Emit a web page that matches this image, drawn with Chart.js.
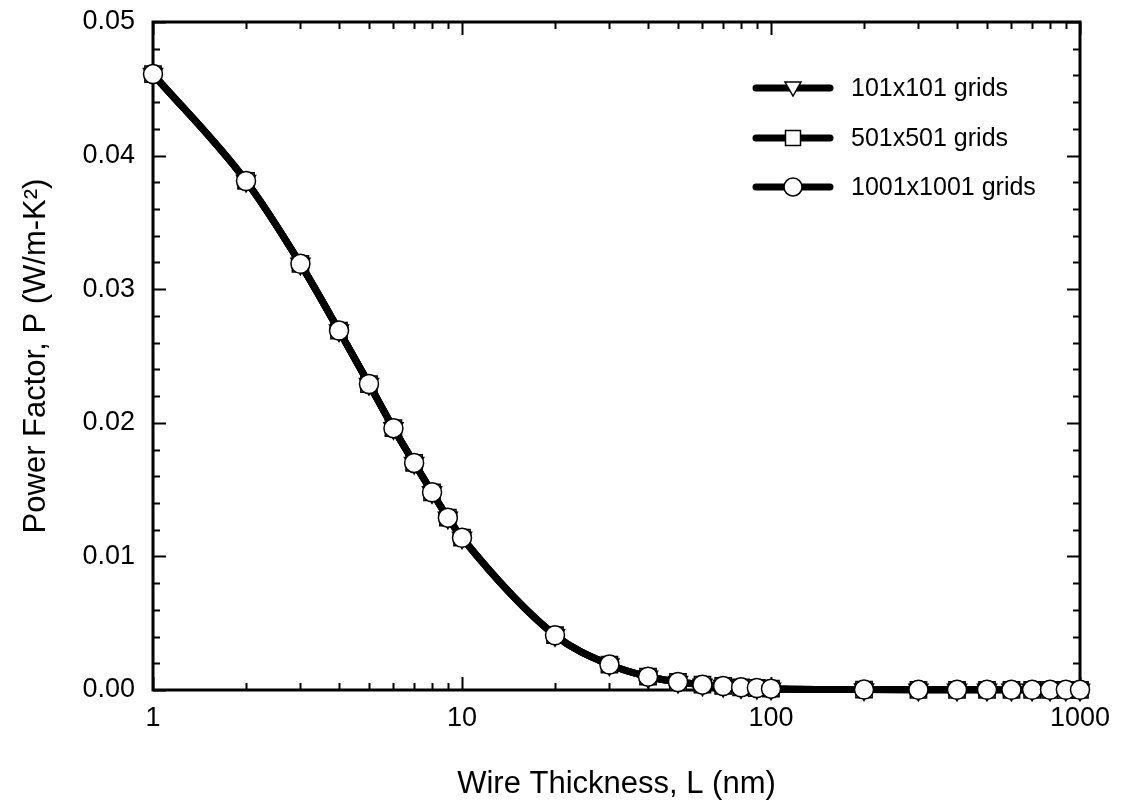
<!DOCTYPE html>
<html lang="en">
<head>
  <meta charset="UTF-8" />
  <title>Power Factor vs Wire Thickness</title>
  <script src="https://cdn.jsdelivr.net/npm/chart.js"></script>
  <style>
    html, body { margin: 0; padding: 0; background: #fff; }
    #wrap { width: 1129px; height: 809px; }
  </style>
</head>
<body>
  <div id="wrap"><canvas id="grafico"></canvas></div>

  <script>
    // --- data ---
    const thickness = [1, 2, 3, 4, 5, 6, 7, 8, 9, 10, 20, 30, 40, 50, 60, 70, 80, 90, 100,
                       200, 300, 400, 500, 600, 700, 800, 900, 1000];
    const grid101  = [0.0461, 0.0381, 0.0319, 0.0269, 0.0229, 0.0196, 0.0170, 0.0148, 0.0129, 0.0114,
                      0.0041, 0.0019, 0.0010, 0.0006, 0.0004, 0.0003, 0.0002, 0.00015, 0.0001,
                      0.00003, 0.00001, 0.00001, 0.00001, 0.00001, 0.00001, 0.00001, 0.00001, 0.00001];
    const grid501  = [0.0461, 0.0381, 0.0319, 0.0269, 0.0229, 0.0196, 0.0170, 0.0148, 0.0129, 0.0114,
                      0.0041, 0.0019, 0.0010, 0.0006, 0.0004, 0.0003, 0.0002, 0.00015, 0.0001,
                      0.00003, 0.00001, 0.00001, 0.00001, 0.00001, 0.00001, 0.00001, 0.00001, 0.00001];
    const grid1001 = [0.0461, 0.0381, 0.0319, 0.0269, 0.0229, 0.0196, 0.0170, 0.0148, 0.0129, 0.0114,
                      0.0041, 0.0019, 0.0010, 0.0006, 0.0004, 0.0003, 0.0002, 0.00015, 0.0001,
                      0.00003, 0.00001, 0.00001, 0.00001, 0.00001, 0.00001, 0.00001, 0.00001, 0.00001];
    const seriesNames = ["101x101 grids", "501x501 grids", "1001x1001 grids"];
    const xTickLabels = [1, 10, 100, 1000];
    const yTickLabels = [0, 0.01, 0.02, 0.03, 0.04, 0.05];

    const FONT = "Arial, 'Liberation Sans', sans-serif";

    function serie(label, valores, estilo, rot, raio, ordem) {
      return {
        label: label,
        data: thickness.map((x, i) => ({ x: x, y: valores[i] })),
        borderColor: "#000",
        borderWidth: 7,
        backgroundColor: "#fff",
        pointStyle: estilo,
        rotation: rot,
        pointRadius: raio,
        pointBackgroundColor: "#fff",
        pointBorderColor: "#000",
        pointBorderWidth: 1.5,
        cubicInterpolationMode: "monotone",
        clip: false,
        order: ordem
      };
    }

    // inward ticks on all four sides + frame, legend inside the plot
    const molduraPlugin = {
      id: "moldura",
      beforeDatasetsDraw(chart) {
        const { ctx, chartArea: a, scales } = chart;
        ctx.save();
        ctx.strokeStyle = "#000";
        ctx.lineWidth = 2;
        for (let dec = 1; dec <= 1000; dec *= 10) {
          for (let m = 1; m <= 9; m++) {
            const v = dec * m;
            if (v > 1000) break;
            const px = Math.round(scales.x.getPixelForValue(v)) + 0.5;
            const len = m === 1 ? 13 : 7;
            ctx.beginPath();
            ctx.moveTo(px, a.bottom); ctx.lineTo(px, a.bottom - len);
            ctx.moveTo(px, a.top); ctx.lineTo(px, a.top + len);
            ctx.stroke();
          }
        }
        for (let k = 0; k <= 25; k++) {
          const v = k * 0.002;
          const py = Math.round(scales.y.getPixelForValue(v)) + 0.5;
          const len = k % 5 === 0 ? 13 : 7;
          ctx.beginPath();
          ctx.moveTo(a.left, py); ctx.lineTo(a.left + len, py);
          ctx.moveTo(a.right, py); ctx.lineTo(a.right - len, py);
          ctx.stroke();
        }
        ctx.lineWidth = 3;
        ctx.strokeRect(a.left, a.top, a.right - a.left, a.bottom - a.top);
        ctx.restore();
      },
      afterDraw(chart) {
        const { ctx } = chart;
        const linhas = [88, 138, 187];
        const estilos = ["triangle", "rect", "circle"];
        ctx.save();
        ctx.font = "25px " + FONT;
        ctx.textBaseline = "middle";
        linhas.forEach((y, i) => {
          ctx.strokeStyle = "#000";
          ctx.lineWidth = 7;
          ctx.lineCap = "round";
          ctx.beginPath();
          ctx.moveTo(756, y); ctx.lineTo(830, y);
          ctx.stroke();
          ctx.lineCap = "butt";
          ctx.lineWidth = 1.5;
          ctx.fillStyle = "#fff";
          const cx = 793;
          ctx.beginPath();
          if (estilos[i] === "triangle") {
            ctx.moveTo(cx - 8, y - 6); ctx.lineTo(cx + 8, y - 6); ctx.lineTo(cx, y + 8); ctx.closePath();
          } else if (estilos[i] === "rect") {
            ctx.rect(cx - 7.5, y - 7.5, 15, 15);
          } else {
            ctx.arc(cx, y, 9, 0, Math.PI * 2);
          }
          ctx.fill(); ctx.stroke();
          ctx.fillStyle = "#000";
          ctx.fillText(seriesNames[i], 851, y + 1);
        });
        ctx.restore();
      }
    };

    new Chart(document.getElementById("grafico"), {
      type: "line",
      data: {
        datasets: [
          serie(seriesNames[0], grid101, "triangle", 180, 11, 3),
          serie(seriesNames[1], grid501, "rect", 0, 11.5, 2),
          serie(seriesNames[2], grid1001, "circle", 0, 9.5, 1)
        ]
      },
      options: {
        responsive: true,
        maintainAspectRatio: false,
        animation: false,
        layout: { padding: { left: 0, right: 49, top: 22, bottom: 0 } },
        plugins: { legend: { display: false }, tooltip: { enabled: false } },
        scales: {
          x: {
            type: "logarithmic",
            min: 1,
            max: 1000,
            afterBuildTicks: s => { s.ticks = xTickLabels.map(v => ({ value: v })); },
            afterFit: s => { s.height = 119; s.paddingLeft = 0; s.paddingRight = 0; },
            grid: { display: false, drawTicks: false },
            border: { display: false },
            ticks: {
              color: "#000",
              font: { family: FONT, size: 27 },
              padding: 12,
              autoSkip: false,
              maxRotation: 0,
              callback: v => String(v)
            },
            title: {
              display: true,
              text: "Wire Thickness, L (nm)",
              color: "#000",
              font: { family: FONT, size: 31 },
              padding: { top: 0, bottom: 6 }
            }
          },
          y: {
            min: 0,
            max: 0.05,
            afterBuildTicks: s => { s.ticks = yTickLabels.map(v => ({ value: v })); },
            afterFit: s => { s.width = 153; s.paddingTop = 0; s.paddingBottom = 0; },
            grid: { display: false, drawTicks: false },
            border: { display: false },
            ticks: {
              color: "#000",
              font: { family: FONT, size: 27 },
              padding: 18,
              callback: v => Number(v).toFixed(2)
            },
            title: {
              display: true,
              text: "Power Factor, P (W/m-K²)",
              color: "#000",
              font: { family: FONT, size: 31 },
              padding: { top: 18, bottom: 0 }
            }
          }
        }
      },
      plugins: [molduraPlugin]
    });
  </script>
</body>
</html>
